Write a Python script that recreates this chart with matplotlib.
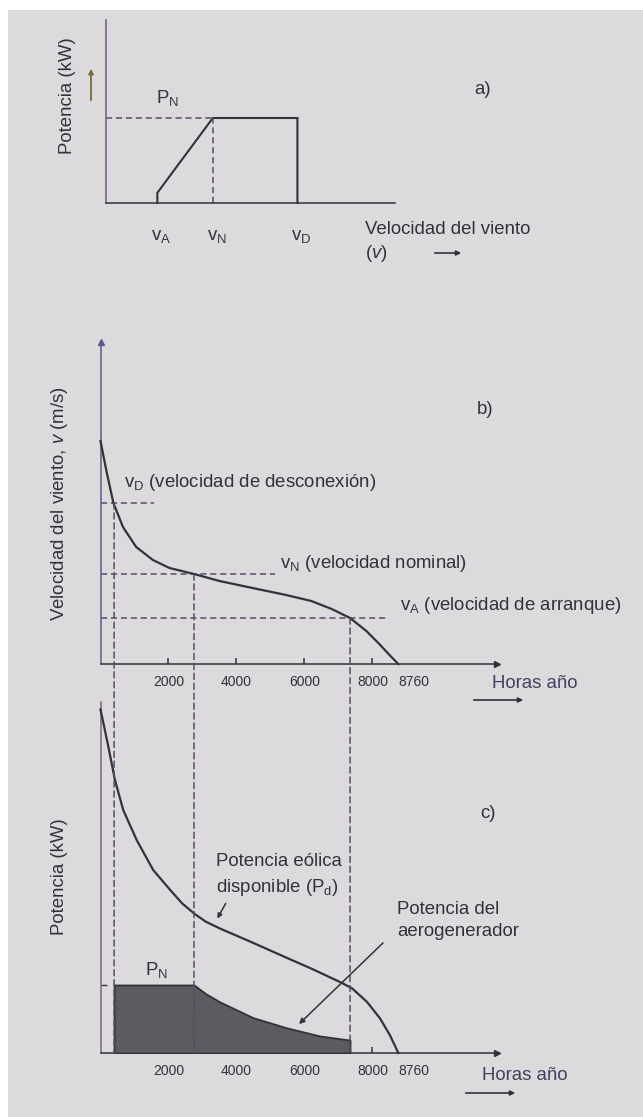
import matplotlib
matplotlib.use('Agg')
import matplotlib.pyplot as plt
from matplotlib.patches import Rectangle, ConnectionPatch, FancyArrowPatch

plt.rcParams['font.family'] = ['Liberation Sans', 'DejaVu Sans']
plt.rcParams['mathtext.fontset'] = 'custom'
plt.rcParams['mathtext.rm'] = 'Liberation Sans'
plt.rcParams['mathtext.it'] = 'Liberation Sans:italic'

W, H = 643, 1117
BG = '#dcdadc'
INK = '#333238'
DASH = '#574c66'
FS = 13.4

# a) curva de potencia del aerogenerador (unidades esquematicas)
vel_a = [4.5, 4.5, 9.33, 16.7, 16.7]
pot_a = [0.0, 0.12, 1.0, 1.0, 0.0]
v_a_marks = [4.5, 9.33, 16.7]
v_a_labels = [r'v$_\mathregular{A}$', r'v$_\mathregular{N}$', r'v$_\mathregular{D}$']

# b) curva de duracion de la velocidad del viento
horas_b = [0, 180, 380, 660, 1050, 1540, 2030, 2750, 3500, 4470, 5460,
           6200, 6800, 7340, 7820, 8200, 8500, 8760]
vel_b = [22.3, 19.2, 16.1, 13.7, 11.7, 10.4, 9.6, 9.0, 8.3, 7.6, 6.9,
         6.3, 5.5, 4.6, 3.3, 2.0, 0.9, 0.0]
H_D, H_N, H_A = 400, 2750, 7340
V_D, V_N, V_A = 16.1, 9.0, 4.6
fin_guia_b = [1570, 5130, 8485]
guia_labels = ['v$_\\mathregular{D}$ (velocidad de desconexión)',
               'v$_\\mathregular{N}$ (velocidad nominal)',
               'v$_\\mathregular{A}$ (velocidad de arranque)']
x_ticks = [2000, 4000, 6000, 8000]

# c) potencia eolica disponible y potencia del aerogenerador
horas_c = [0, 220, 426, 670, 1065, 1550, 2045, 2400, 2780, 3100, 3515, 4485,
           5475, 6250, 7100, 7400, 7840, 8220, 8515, 8760]
pd_c = [5.05, 4.53, 4.01, 3.57, 3.13, 2.69, 2.40, 2.20, 2.04, 1.93, 1.83, 1.62,
        1.40, 1.23, 1.03, 0.95, 0.75, 0.51, 0.26, 0.0]
horas_gen = [400, 2750, 3100, 3515, 4485, 5475, 6455, 7340]
p_gen = [1.0, 1.0, 0.87, 0.75, 0.52, 0.37, 0.25, 0.19]


def fx(x):
    return x / W


def fy(y):
    return 1 - y / H


def box(l, t, r, b):
    return [fx(l), fy(b), (r - l) / W, (b - t) / H]


fig = plt.figure(figsize=(W / 100, H / 100), dpi=100, facecolor='white')
fig.add_artist(Rectangle((fx(8), 0), 1 - fx(8), fy(10), transform=fig.transFigure,
                         facecolor=BG, edgecolor='none', zorder=-10))


def base_axes(rect, xlim, ylim, ycol):
    ax = fig.add_axes(rect)
    ax.patch.set_alpha(0)
    ax.set_xlim(*xlim)
    ax.set_ylim(*ylim)
    for s in ['top', 'right']:
        ax.spines[s].set_visible(False)
    ax.spines['left'].set_color(ycol)
    ax.spines['bottom'].set_color(INK)
    ax.spines['left'].set_linewidth(1.1)
    ax.spines['bottom'].set_linewidth(1.1)
    ax.set_xticks([])
    ax.set_yticks([])
    return ax


def hour_ticks(ax):
    ax.set_xticks(x_ticks)
    ax.set_xticks([8760], minor=True)
    ax.tick_params(axis='x', which='major', direction='in', length=4.5, width=1.1,
                   color=INK, labelsize=10, labelcolor=INK, pad=8)
    ax.tick_params(axis='x', which='minor', length=0, labelsize=10, labelcolor=INK, pad=8)
    ax.set_xticklabels([str(t) for t in x_ticks])
    ax.set_xticklabels(['8760'], minor=True)
    for lbl in ax.get_xticklabels(minor=True):
        lbl.set_horizontalalignment('left')


def arrow(p0, p1, ms=7, lw=1.2, color=INK, z=2):
    fig.add_artist(FancyArrowPatch((fx(p0[0]), fy(p0[1])), (fx(p1[0]), fy(p1[1])),
                                   transform=fig.transFigure, arrowstyle='-|>',
                                   mutation_scale=ms, lw=lw, color=color, zorder=z))


# ---------------- a)
ax_a = base_axes(box(105.7, 20, 395, 203), (0, 25.2), (0, 2.153), '#6a5c86')
ax_a.plot(vel_a, pot_a, color=INK, lw=1.5, solid_joinstyle='miter', clip_on=False)
ax_a.plot([0, v_a_marks[1]], [1, 1], color=DASH, lw=1.1, ls=(0, (4, 2.5)))
ax_a.plot([v_a_marks[1], v_a_marks[1]], [0, 1], color=DASH, lw=1.1, ls=(0, (4, 2.5)))
for v, lab in zip(v_a_marks, v_a_labels):
    ax_a.annotate(lab, (v, 0), xytext=(3, -24), textcoords='offset points',
                  ha='center', va='center', fontsize=FS, color=INK)
fig.text(fx(68), fy(96), 'Potencia (kW)', rotation=90, ha='center', va='center',
         fontsize=FS, color=INK)
arrow((91, 103), (91, 66), color='#7d6a3a', lw=1.3)
fig.text(fx(167), fy(98), r'P$_\mathregular{N}$', ha='center', va='center', fontsize=FS, color=INK)
fig.text(fx(483), fy(90), 'a)', ha='center', va='center', fontsize=FS, color=INK)
fig.text(fx(365), fy(229), 'Velocidad del viento', ha='left', va='center', fontsize=FS, color=INK)
fig.text(fx(365), fy(253), r'($\it{v}$)', ha='left', va='center', fontsize=FS, color=INK)
arrow((432, 253), (464, 253))

# ---------------- b)
XMAX = 11662
ax_b = base_axes(box(100.5, 342, 497, 664), (0, XMAX), (0, 32.2), '#5f5a8c')
ax_b.plot(horas_b, vel_b, color=INK, lw=1.6, clip_on=False, zorder=3,
          solid_joinstyle='round')
for lvl, end in zip([V_D, V_N, V_A], fin_guia_b):
    ax_b.plot([0, end], [lvl, lvl], color=DASH, lw=1.1, ls=(0, (4, 2.5)))
hour_ticks(ax_b)
ax_b.plot([0], [1], marker='^', ms=5, color='#5f5a8c', transform=ax_b.transAxes, clip_on=False)
ax_b.plot([1], [0], marker='>', ms=5, color=INK, transform=ax_b.transAxes, clip_on=False)

fig.text(fx(59), fy(504), r'Velocidad del viento, $\mathbf{\it{v}}$ (m/s)', rotation=90,
         ha='center', va='center', fontsize=FS, color=INK)
fig.text(fx(485), fy(410), 'b)', ha='center', va='center', fontsize=FS, color=INK)
for (xl, yl), lab in zip([(124, 483), (280, 563), (400, 605)], guia_labels):
    fig.text(fx(xl), fy(yl), lab, ha='left', va='center', fontsize=FS, color=INK)
fig.text(fx(492), fy(683), 'Horas año', ha='left', va='center', fontsize=FS, color='#45405e')
arrow((471, 700), (526, 700))

# ---------------- c)
ax_c = base_axes(box(100.5, 702, 497, 1053), (0, XMAX), (0, 5.16), '#7a6a78')
ax_c.plot(horas_c, pd_c, color=INK, lw=1.6, clip_on=False, zorder=4,
          solid_joinstyle='round')
ax_c.fill_between(horas_gen, p_gen, 0, facecolor='#5d5b62', edgecolor=INK, lw=1.3, zorder=3)
ax_c.set_yticks([1])
ax_c.set_yticklabels([])
ax_c.tick_params(axis='y', direction='in', length=4, width=1.0, color=INK)
hour_ticks(ax_c)
ax_c.plot([1], [0], marker='>', ms=5, color=INK, transform=ax_c.transAxes, clip_on=False)

# guias verticales que unen b) con c)
for h, v in zip([H_D, H_N, H_A], [V_D, V_N, V_A]):
    con = ConnectionPatch((h, v), (h, 0), coordsA=ax_b.transData, coordsB=ax_c.transData,
                          color=DASH, lw=1.1, ls=(0, (4, 2.5)), zorder=5)
    fig.add_artist(con)

fig.text(fx(59), fy(877), 'Potencia (kW)', rotation=90, ha='center', va='center',
         fontsize=FS, color=INK)
fig.text(fx(488), fy(813), 'c)', ha='center', va='center', fontsize=FS, color=INK)
fig.text(fx(216), fy(862), 'Potencia eólica', ha='left', va='center', fontsize=FS, color=INK)
fig.text(fx(216), fy(887), r'disponible (P$_\mathregular{d}$)', ha='left', va='center',
         fontsize=FS, color=INK)
arrow((227, 901), (216, 921), lw=1.1)
fig.text(fx(397), fy(909), 'Potencia del', ha='left', va='center', fontsize=FS, color=INK)
fig.text(fx(397), fy(932), 'aerogenerador', ha='left', va='center', fontsize=FS, color=INK)
arrow((385, 941), (297, 1026), ms=8, lw=1.1, z=6)
fig.text(fx(156), fy(970), r'P$_\mathregular{N}$', ha='center', va='center', fontsize=FS, color=INK)
fig.text(fx(482), fy(1075), 'Horas año', ha='left', va='center', fontsize=FS, color='#45405e')
arrow((463, 1093), (518, 1093))

fig.savefig('out.png', dpi=100, facecolor='white')
